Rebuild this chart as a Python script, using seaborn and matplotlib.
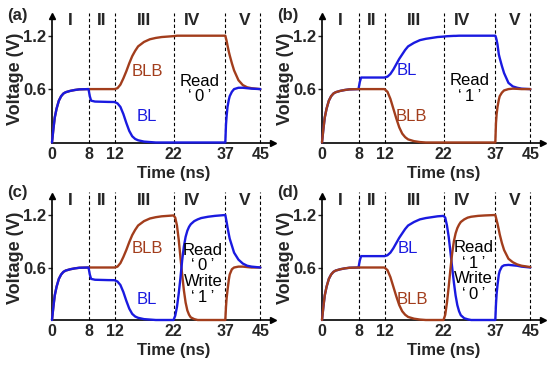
import numpy as np
import pandas as pd
import matplotlib
matplotlib.use('Agg')
import matplotlib.pyplot as plt
import seaborn as sns

# time grid (ns), shared by every curve
t_ns = [0, 0.3, 0.6, 1, 1.5, 2, 2.5, 3, 4, 5, 6, 8,
        8.2, 8.4, 9, 10, 11, 12,
        12.5, 13, 13.5, 14, 14.5, 15, 15.5, 16, 17, 18, 19, 20, 21, 22,
        22.5, 23, 23.5, 24, 24.5, 25, 25.5, 26, 26.5, 27, 28, 29, 30, 32, 34, 37,
        37.15, 37.3, 37.5, 37.8, 38, 38.5, 39, 40, 41, 42, 43, 45]

# phase I: precharge to 0.6 V (same for both lines)
pre = [0, 0.15, 0.28, 0.38, 0.47, 0.52, 0.55, 0.565, 0.58, 0.59, 0.597, 0.6]

# (a) read '0'
a_bl = (pre + [0.52, 0.47, 0.46, 0.458, 0.456, 0.455]
        + [0.44, 0.4, 0.32, 0.22, 0.13, 0.07, 0.04, 0.025, 0.01, 0.005, 0, 0, 0, 0]
        + [0] * 16
        + [0.2, 0.3, 0.4, 0.48, 0.52, 0.57, 0.6, 0.615, 0.615, 0.61, 0.605, 0.6])
a_blb = (pre + [0.6] * 6
         + [0.61, 0.65, 0.72, 0.8, 0.89, 0.97, 1.03, 1.08, 1.13, 1.16, 1.175, 1.185, 1.19, 1.195]
         + [1.197] + [1.2] * 15
         + [1.17, 1.14, 1.09, 1.02, 0.98, 0.89, 0.81, 0.7, 0.645, 0.62, 0.61, 0.6])

# (b) read '1'
b_bl = (pre + [0.68, 0.73, 0.73, 0.73, 0.73, 0.73]
        + [0.74, 0.77, 0.82, 0.88, 0.94, 0.99, 1.04, 1.08, 1.12, 1.15, 1.165, 1.175, 1.185, 1.19]
        + [1.192, 1.194, 1.195, 1.196, 1.197, 1.198, 1.198, 1.199] + [1.2] * 8
        + [1.18, 1.15, 1.1, 0.99, 0.95, 0.86, 0.78, 0.67, 0.63, 0.615, 0.605, 0.6])
b_blb = (pre + [0.6] * 6
         + [0.57, 0.49, 0.38, 0.27, 0.17, 0.1, 0.06, 0.035, 0.015, 0.005, 0, 0, 0, 0]
         + [0] * 16
         + [0.22, 0.32, 0.4, 0.48, 0.52, 0.56, 0.585, 0.6, 0.605, 0.603, 0.6, 0.6])

# (c) read '0', write '1'
c_bl = (a_bl[:32]
        + [0.05, 0.15, 0.3, 0.48, 0.68, 0.84, 0.95, 1.02, 1.065, 1.095, 1.13, 1.15, 1.165, 1.18, 1.19, 1.2]
        + [1.16, 1.12, 1.06, 0.98, 0.93, 0.85, 0.77, 0.69, 0.645, 0.62, 0.61, 0.6])
c_blb = (a_blb[:32]
         + [1.17, 1.08, 0.92, 0.72, 0.52, 0.34, 0.2, 0.11, 0.06, 0.03, 0.01, 0, 0, 0, 0, 0]
         + [0.15, 0.25, 0.34, 0.46, 0.52, 0.58, 0.6, 0.61, 0.61, 0.605, 0.6, 0.6])

# (d) read '1', write '0'
d_bl = (b_bl[:32]
        + [1.17, 1.08, 0.95, 0.78, 0.6, 0.43, 0.28, 0.17, 0.1, 0.055, 0.02, 0.008, 0, 0, 0, 0]
        + [0.18, 0.3, 0.4, 0.52, 0.56, 0.61, 0.625, 0.63, 0.625, 0.62, 0.61, 0.6])
d_blb = (b_blb[:32]
         + [0.06, 0.2, 0.38, 0.58, 0.76, 0.9, 0.99, 1.05, 1.09, 1.12, 1.15, 1.17, 1.18, 1.19, 1.195, 1.2]
         + [1.17, 1.14, 1.1, 1.03, 0.98, 0.88, 0.8, 0.7, 0.66, 0.635, 0.62, 0.605])

phase_ticks = [0, 8, 12, 22, 37, 45]
phase_names = ['I', 'II', 'III', 'IV', 'V']

BL_COLOR = '#1a1ae0'
BLB_COLOR = '#a23d1c'

sns.set_style('white')
plt.rcParams['font.family'] = ['Liberation Sans', 'DejaVu Sans']

# the time axis is drawn stretched per phase, as in the original figure
T_KNOTS = [-10, 0, 8, 12, 22, 37, 45, 55]
U_KNOTS = [-43.7, 0, 36.5, 62.5, 121.5, 173.3, 208.3, 252]


def fwd(t):
    return np.interp(t, T_KNOTS, U_KNOTS)


def inv(u):
    return np.interp(u, U_KNOTS, T_KNOTS)


W, H = 550, 366
fig = plt.figure(figsize=(W / 100, H / 100), dpi=100)

q0 = '\u2018\u20090\u2009\u2019'
q1 = '\u2018\u20091\u2009\u2019'
panels = [
    # label, left px, x-axis y px, px per volt, curves (bottom first), texts
    ('(a)', 52, 142.5, 89, [(a_blb, BLB_COLOR), (a_bl, BL_COLOR)],
     [(17.5, 0.80, 'BLB', BLB_COLOR), (17.5, 0.29, 'BL', BL_COLOR),
      (29.7, 0.60, 'Read\n' + q0, 'black')]),
    ('(b)', 322, 142.5, 89, [(b_bl, BL_COLOR), (b_blb, BLB_COLOR)],
     [(15.8, 0.81, 'BL', BL_COLOR), (16.6, 0.29, 'BLB', BLB_COLOR),
      (29.7, 0.61, 'Read\n' + q1, 'black')]),
    ('(c)', 52, 320, 87.5, [(c_blb, BLB_COLOR), (c_bl, BL_COLOR)],
     [(17.5, 0.82, 'BLB', BLB_COLOR), (17.5, 0.23, 'BL', BL_COLOR),
      (30.5, 0.53, 'Read\n' + q0 + '\nWrite\n' + q1, 'black')]),
    ('(d)', 322, 320, 87.5, [(d_bl, BL_COLOR), (d_blb, BLB_COLOR)],
     [(16.0, 0.82, 'BL', BL_COLOR), (16.8, 0.23, 'BLB', BLB_COLOR),
      (30.7, 0.56, 'Read\n' + q1 + '\nWrite\n' + q0, 'black')]),
]

YTOP = 1.42
for label, left, base, ppv, curves, texts in panels:
    h = YTOP * ppv
    ax = fig.add_axes([left / W, (H - base) / H, 221 / W, h / H])
    for vals, col in curves:
        df = pd.DataFrame({'t': t_ns, 'v': vals})
        sns.lineplot(data=df, x='t', y='v', ax=ax, color=col, linewidth=1.7,
                     estimator=None, sort=False, legend=False, clip_on=False, zorder=3)
    ax.set_xscale('function', functions=(fwd, inv))
    ax.set_xlim(0, 47.9)
    ax.set_ylim(0, YTOP)
    ax.vlines(phase_ticks[1:], 0, 1.46, colors='black', linewidth=0.8,
              linestyles=(0, (3, 2.2)), zorder=1, clip_on=False)

    ax.set_xticks(phase_ticks)
    ax.set_xticklabels([str(v) for v in phase_ticks], fontsize=11.5, fontweight='bold')
    ax.set_yticks([0.6, 1.2])
    ax.set_yticklabels(['0.6', '1.2'], fontsize=12, fontweight='bold')
    ax.tick_params(axis='x', length=0, pad=3)
    ax.tick_params(axis='y', length=3, width=1, pad=1, direction='out', left=True)

    ax.set_xlabel('Time (ns)', fontsize=12, fontweight='bold')
    ax.xaxis.set_label_coords(0.55, -0.185)
    ax.set_ylabel('Voltage (V)', fontsize=13, fontweight='bold')
    ax.yaxis.set_label_coords(-0.125, 0.5)

    for side in ['top', 'right']:
        ax.spines[side].set_visible(False)
    for side in ['left', 'bottom']:
        ax.spines[side].set_linewidth(1.2)
        ax.spines[side].set_color('black')
    ax.plot([1], [0], marker='>', color='black', markersize=5,
            transform=ax.transAxes, clip_on=False)
    ax.plot([0], [1], marker='^', color='black', markersize=5,
            transform=ax.transAxes, clip_on=False)

    for xpos, name in zip([4, 10, 17, 27.5, 41.5], phase_names):
        ax.text(xpos, 1.37, name, ha='center', va='center', fontsize=12.5, fontweight='bold')
    for xpos, ypos, txt, col in texts:
        ax.text(xpos, ypos, txt, ha='center', va='center', fontsize=12, color=col,
                linespacing=1.05)

    fig.text((left - 45) / W, (H - (base - 127)) / H, label, ha='left', va='center',
             fontsize=12, fontweight='bold')

fig.savefig('out.png', dpi=100)
